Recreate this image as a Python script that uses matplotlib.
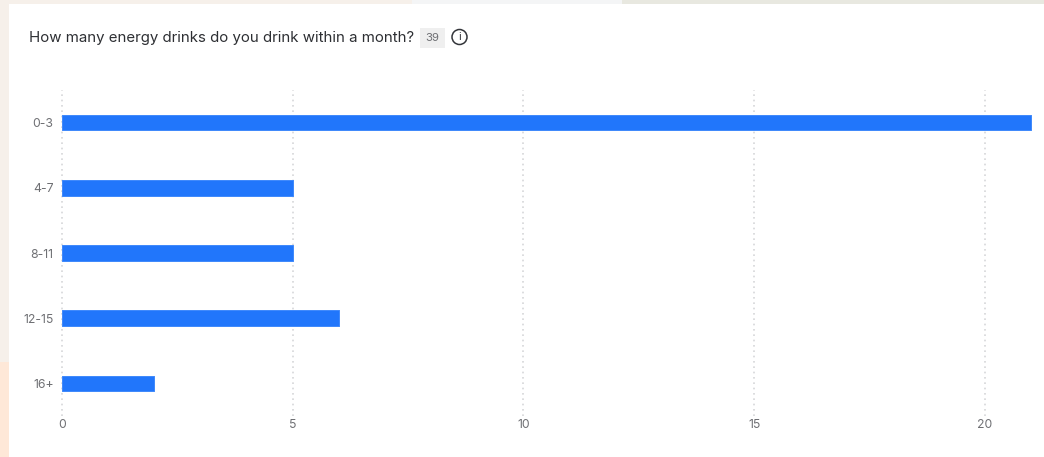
#!/usr/bin/env python3

import matplotlib.pyplot as plt
from matplotlib.patches import Circle, Rectangle

W, H = 1044, 457

categories = ["0-3", "4-7", "8-11", "12-15", "16+"]
counts = [21, 5, 5, 6, 2]
x_ticks = [0, 5, 10, 15, 20]
total_responses = 39
question = "How many energy drinks do you drink within a month?"

plt.rcParams['font.family'] = ['Inter', 'DejaVu Sans']

fig = plt.figure(figsize=(W / 100, H / 100), dpi=100, facecolor='white')


def to_fig(px, py):
    # pixel position measured from the top left corner
    return px / W, 1 - py / H


def backdrop(x0, y0, x1, y1, color):
    fx, fy = to_fig(x0, y1)
    fig.add_artist(Rectangle((fx, fy), (x1 - x0) / W, (y1 - y0) / H, transform=fig.transFigure,
                             facecolor=color, edgecolor='none', zorder=-5))


# Page colours showing around the white card
backdrop(0, 0, 9, 362, '#f6f0ea')
backdrop(0, 362, 9, 457, '#fee8d8')
backdrop(0, 0, 412, 4, '#f6f0ea')
backdrop(412, 0, 622, 4, '#f4f5f6')
backdrop(622, 0, 1044, 4, '#e8e8e0')

# Axes frame: x runs from 0 to 21, one band of 65 px per category
left, top = to_fig(62, 90)
_, bottom = to_fig(62, 416)
ax = fig.add_axes([left, bottom, (1031 - 62) / W, top - bottom])
ax.set_facecolor('none')

positions = list(range(len(categories)))
bars = ax.barh(positions, counts, height=15.5 / 65.2, color='#2176fb', edgecolor='#3f89fb',
               linewidth=0.7, joinstyle='round', zorder=3)
for bar in bars:
    bar.set_clip_on(False)

ax.set_xlim(0, 21)
ax.set_ylim(len(categories) - 0.5, -0.5)

ax.set_yticks(positions)
ax.set_yticklabels(categories)
ax.set_xticks(x_ticks)
ax.tick_params(axis='both', length=0, labelsize=8.8, labelcolor='#6f7074')
ax.tick_params(axis='y', pad=6)
ax.tick_params(axis='x', pad=2)

ax.grid(axis='x', color='#d6d7d9', linewidth=1.2, linestyle=(0, (1, 2.2)), zorder=0)
ax.set_axisbelow(True)
for spine in ax.spines.values():
    spine.set_visible(False)
for line in ax.get_xgridlines():
    line.set_clip_on(False)

# Question heading with the response count chip and the info icon
tx, ty = to_fig(29, 38)
fig.text(tx, ty, question, fontsize=10.8, color='#2d2f33', ha='left', va='center')

cx, cy = to_fig(420, 28)
fig.add_artist(Rectangle((cx, cy - 20 / H), 25 / W, 20 / H, transform=fig.transFigure,
                         facecolor='#efefef', edgecolor='none'))
nx, ny = to_fig(432.5, 38)
fig.text(nx, ny, str(total_responses), fontsize=8.2, color='#6f7074', ha='center', va='center')

ix, iy = to_fig(459.5, 37)
fig.add_artist(Circle((459.5, H - 37), 7.5, transform=None, facecolor='none',
                      edgecolor='#33353a', linewidth=1.1))
fig.text(ix, iy, "i", fontsize=8, color='#33353a', ha='center', va='center')

fig.savefig('out.png', dpi=100)
plt.close(fig)
